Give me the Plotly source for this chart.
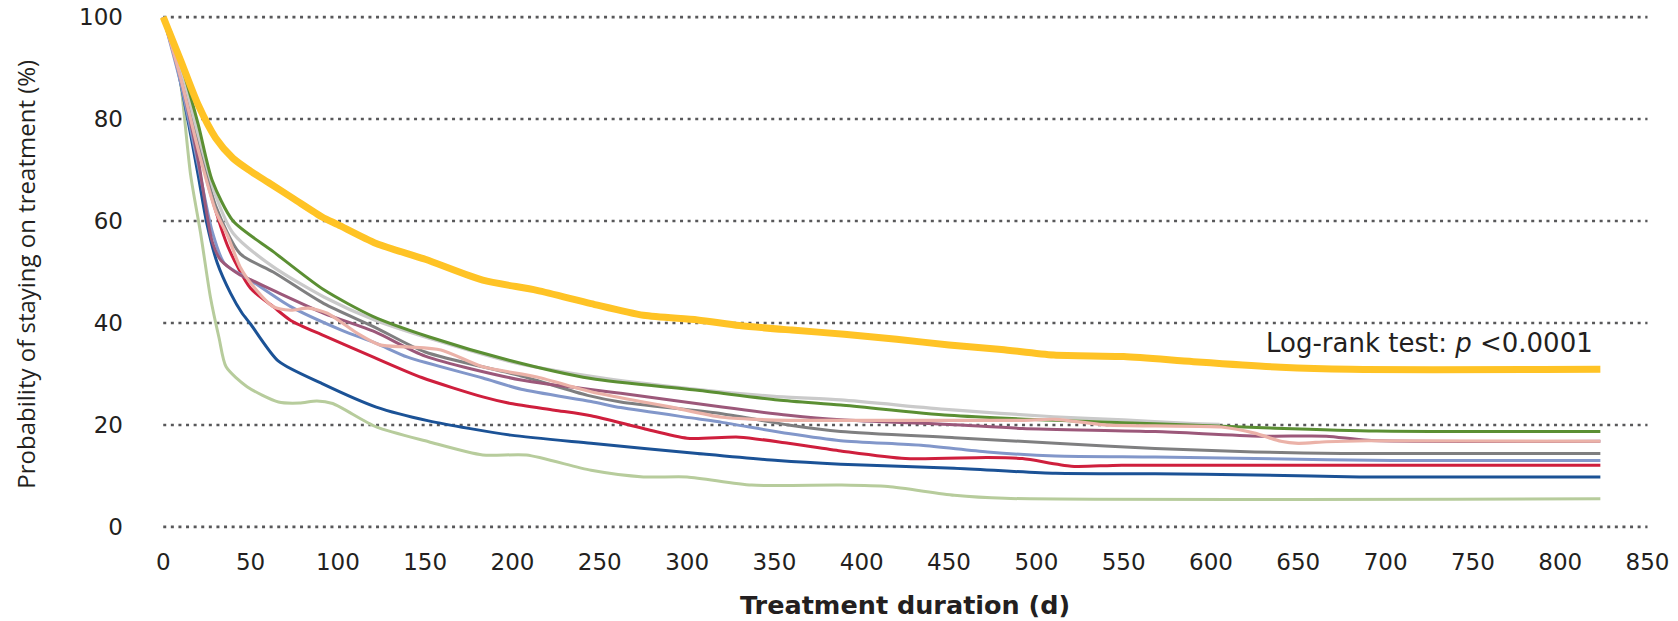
import plotly.graph_objects as go

# ---------------- data ----------------
Y_TICKS = [0, 20, 40, 60, 80, 100]
X_TICKS = [0, 50, 100, 150, 200, 250, 300, 350, 400, 450, 500, 550, 600, 650, 700, 750, 800, 850]

lightgreen_d = [0, 5, 10, 15.7, 21.4, 27, 32, 36, 48, 66, 78, 88, 97, 122, 152, 183, 208, 245, 275, 300, 337, 388, 415, 453, 482, 823]
lightgreen_v = [100, 96.5, 87, 69, 57.6, 45.1, 37, 31.4, 27.5, 24.5, 24.3, 24.7, 24.2, 19.6, 16.7, 14.1, 14.1, 11.1, 9.8, 9.8, 8.2, 8.2, 7.9, 6.2, 5.6, 5.5]

blue_d = [0, 8, 14, 20, 25, 31, 38.6, 45, 50, 66, 91, 122, 152, 199, 245, 306, 352, 388, 453, 511, 568, 625, 685, 823]
blue_v = [100, 90.3, 80, 69, 59.5, 51.7, 45.8, 42, 39.8, 32.5, 28.1, 23.5, 20.8, 18, 16.4, 14.4, 13, 12.3, 11.5, 10.5, 10.4, 10.2, 9.8, 9.8]

red_d = [0, 10, 20, 25, 37, 50, 63, 73, 92, 121, 148, 183, 199, 224, 245, 275, 300, 330, 358, 388, 425, 472, 492, 520, 549, 823]
red_v = [100, 89, 77, 68, 55, 46.8, 43.2, 40.5, 37.5, 33.2, 29.3, 25.5, 24.2, 22.9, 21.8, 19.3, 17.4, 17.6, 16.4, 14.9, 13.4, 13.6, 13.4, 11.9, 12.1, 12.1]

periwinkle_d = [0, 10, 20, 28, 35, 50, 73, 102, 122, 140, 183, 205, 245, 262, 306, 320, 358, 388, 434, 472, 511, 568, 625, 704, 823]
periwinkle_v = [100, 87, 71, 58, 51.7, 48.4, 43.2, 38.6, 36.0, 33.3, 29.2, 27.0, 24.6, 23.4, 21.2, 20.5, 18.3, 16.9, 16.0, 14.7, 13.9, 13.7, 13.4, 13.0, 13.0]

gray_d = [0, 10, 20, 30, 44, 63, 92, 121, 150, 205, 243, 262, 320, 358, 388, 453, 511, 568, 625, 675, 823]
gray_v = [100, 89, 76, 63, 53.6, 50, 43.8, 39.2, 34.3, 29.6, 25.8, 24.5, 22.2, 20.0, 18.7, 17.5, 16.4, 15.4, 14.7, 14.4, 14.4]

mauve_d = [0, 10, 20, 28, 33, 44, 50, 63, 92, 121, 150, 205, 262, 320, 358, 388, 450, 492, 568, 628, 666, 690, 823]
mauve_v = [100, 88, 72, 56, 52.3, 49.4, 48.5, 46.4, 41.9, 38.3, 33.5, 28.8, 26.2, 23.5, 21.9, 21.0, 20.1, 19.3, 18.7, 17.8, 17.8, 17.0, 16.8]

lightgray_d = [0, 10, 20, 30, 40, 63, 92, 121, 159, 200, 250, 300, 350, 388, 450, 510, 550, 587, 605]
lightgray_v = [100, 90, 77, 65, 57.6, 51, 45.1, 40.6, 36.3, 32.3, 29.3, 27.2, 25.6, 24.9, 23.0, 21.6, 21.0, 20.3, 20.1]

green_d = [0, 10, 20, 28, 40, 63, 92, 120, 152, 198, 245, 306, 352, 388, 450, 511, 572, 634, 695, 823]
green_v = [100, 91, 79, 68, 60, 54, 46.5, 41.3, 37.3, 32.7, 29.1, 26.8, 24.9, 23.9, 21.9, 20.9, 20.2, 19.4, 18.8, 18.7]

pink_d = [0, 10, 20, 30, 37, 44, 52, 63, 73, 83, 94, 111, 124, 140, 159, 183, 214, 245, 275, 291, 320, 358, 390, 450, 492, 511, 539, 568, 606, 625, 640, 650, 666, 690, 823]
pink_v = [100, 88, 74, 62, 57, 51, 47, 43.2, 42.5, 42.9, 41.9, 38, 35.7, 35.3, 34.7, 31.4, 29.4, 26.5, 24.5, 23.5, 21.5, 20.9, 20.9, 20.9, 20.9, 21.1, 20.0, 19.8, 19.6, 18.4, 16.8, 16.4, 16.7, 16.9, 16.8]

yellow_d = [0, 10, 20, 30, 40, 50, 60, 75, 91, 100, 122, 150, 183, 214, 245, 275, 306, 330, 360, 390, 420, 450, 480, 510, 550, 590, 640, 680, 823]
yellow_v = [100, 91.5, 82.8, 76.3, 72.3, 69.8, 67.6, 64.3, 60.8, 59.3, 55.6, 52.5, 48.4, 46.4, 43.8, 41.5, 40.6, 39.5, 38.6, 37.8, 36.8, 35.7, 34.8, 33.7, 33.4, 32.4, 31.3, 30.9, 30.9]

SERIES = [
    (lightgreen_d, lightgreen_v, "#b7cc9c", 3),
    (blue_d, blue_v, "#1b5296", 3),
    (red_d, red_v, "#cf1f3d", 3),
    (periwinkle_d, periwinkle_v, "#8297ca", 3),
    (gray_d, gray_v, "#7f7f80", 3),
    (mauve_d, mauve_v, "#9c587a", 3),
    (lightgray_d, lightgray_v, "#cacaca", 3.2),
    (green_d, green_v, "#5b8f33", 3),
    (pink_d, pink_v, "#ebb2a8", 3.2),
    (yellow_d, yellow_v, "#ffc325", 7),
]

TEXT = "#231f20"

fig = go.Figure()

# dotted gridlines spanning 0..850
for yv in Y_TICKS:
    fig.add_shape(type="line", xref="x", yref="y", x0=X_TICKS[0], x1=X_TICKS[-1], y0=yv, y1=yv,
                  line=dict(color="#58585a", width=2.6, dash="3px,4.6px"), layer="below")

for d, v, color, w in SERIES:
    fig.add_trace(go.Scatter(x=d, y=v, mode="lines",
                             line=dict(color=color, width=w, shape="spline", smoothing=0.7),
                             hoverinfo="skip", showlegend=False))

fig.add_annotation(x=820, y=36, xref="x", yref="y", xanchor="right", yanchor="middle",
                   text="Log-rank test: <i>p</i> &lt;0.0001", showarrow=False,
                   font=dict(family="DejaVu Sans", size=26, color=TEXT))

fig.add_annotation(x=-0.0887, y=0.496, xref="paper", yref="paper", textangle=-90,
                   xanchor="center", yanchor="middle",
                   text="Probability of staying on treatment (%)", showarrow=False,
                   font=dict(family="Open Sans", size=24, color=TEXT))

fig.add_annotation(x=0.5, y=-0.138, xref="paper", yref="paper",
                   xanchor="center", yanchor="middle",
                   text="<b>Treatment duration (d)</b>", showarrow=False,
                   font=dict(family="DejaVu Sans", size=25.5, color=TEXT))

fig.update_layout(
    width=1670, height=613,
    margin=dict(l=149.5, r=26.5, t=3, b=88.2),
    paper_bgcolor="white", plot_bgcolor="white",
    xaxis=dict(range=[-3, 852], tickvals=X_TICKS, ticktext=[str(t) for t in X_TICKS],
               showgrid=False, zeroline=False, showline=False, ticks="", automargin=False,
               ticklabelstandoff=13, ticklabeloverflow="allow",
               tickfont=dict(family="DejaVu Sans", size=23, color=TEXT)),
    yaxis=dict(range=[-1.2, 101.2], tickvals=Y_TICKS, ticktext=[str(t) for t in Y_TICKS],
               showgrid=False, zeroline=False, showline=False, ticks="", automargin=False,
               ticklabelstandoff=34, ticklabeloverflow="allow",
               tickfont=dict(family="DejaVu Sans", size=23, color=TEXT)),
)

fig.write_html("out.html")
